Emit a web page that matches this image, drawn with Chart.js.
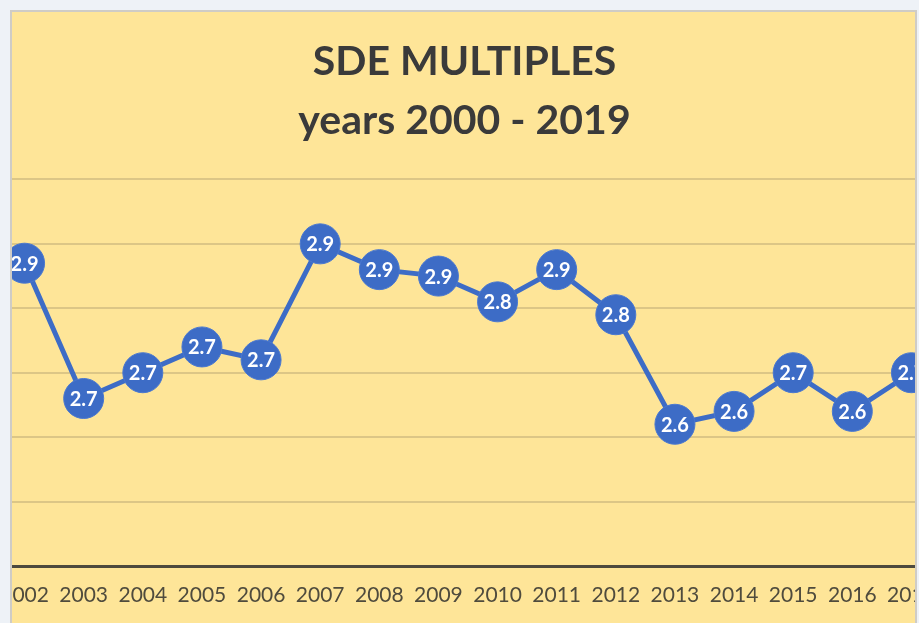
<!DOCTYPE html>
<html>
<head>
<meta charset="utf-8">
<script src="https://cdn.jsdelivr.net/npm/chart.js@4.4.1/dist/chart.umd.min.js"></script>
<style>
  html, body { margin: 0; padding: 0; background: #eef2f7; width: 919px; height: 623px; overflow: hidden; }
  #panel {
    position: absolute; left: 10px; top: 10px; width: 903px; height: 640px;
    background: #fee598; border: 2px solid #cfccc6; overflow: hidden;
  }
  #c { position: absolute; left: -24px; top: 0; }
</style>
</head>
<body>
<div id="panel"><canvas id="c" width="953" height="611"></canvas></div>
<script>
// Data (visible part: 2002–2017)
const years = ['2002','2003','2004','2005','2006','2007','2008','2009','2010','2011','2012','2013','2014','2015','2016','2017'];
const sdeMultiples = [2.87, 2.66, 2.70, 2.74, 2.72, 2.90, 2.86, 2.85, 2.81, 2.86, 2.79, 2.62, 2.64, 2.70, 2.64, 2.70];
const titleLines = ['SDE MULTIPLES', 'years 2000 - 2019'];
const yMin = 2.4, yMax = 3.0, yStep = 0.1;

const FONT = 'Lato, "Open Sans", "DejaVu Sans", sans-serif';
const BLUE = '#3d6cc6';

const pointLabels = {
  id: 'pointLabels',
  afterDatasetsDraw(chart) {
    const ctx = chart.ctx;
    const meta = chart.getDatasetMeta(0);
    const vals = chart.data.datasets[0].data;
    ctx.save();
    ctx.fillStyle = '#ffffff';
    ctx.font = 'bold 20px ' + FONT;
    ctx.textAlign = 'center';
    ctx.textBaseline = 'middle';
    meta.data.forEach((pt, i) => {
      ctx.fillText(Number(vals[i]).toFixed(1), pt.x, pt.y + 1);
    });
    ctx.restore();
  }
};

new Chart(document.getElementById('c'), {
  type: 'line',
  data: {
    labels: years,
    datasets: [{
      data: sdeMultiples,
      borderColor: BLUE,
      backgroundColor: BLUE,
      borderWidth: 5,
      pointRadius: 20,
      pointHoverRadius: 20,
      pointBackgroundColor: BLUE,
      pointBorderColor: '#4a78d0',
      pointBorderWidth: 1,
      tension: 0,
      clip: false
    }]
  },
  options: {
    responsive: false,
    animation: false,
    events: [],
    layout: { autoPadding: false, padding: { top: 0, left: 0, right: 0, bottom: 15 } },
    plugins: {
      legend: { display: false },
      tooltip: { enabled: false },
      title: {
        display: true,
        text: titleLines,
        color: '#3a3a3a',
        font: { family: FONT, size: 41, weight: 'bold', lineHeight: 1.42 },
        padding: { top: 21, bottom: 30 }
      }
    },
    scales: {
      x: {
        offset: true,
        grid: { drawOnChartArea: false, drawTicks: false },
        border: { display: true, color: '#4d4a3e', width: 3 },
        ticks: {
          color: '#4f4b3d',
          font: { family: FONT, size: 21, lineHeight: 1.2 },
          padding: 17,
          maxRotation: 0,
          autoSkip: false
        },
        afterFit(scale) { scale.paddingLeft = 0; scale.paddingRight = 0; scale.height = 42; }
      },
      y: {
        min: yMin,
        max: yMax,
        ticks: { display: false, stepSize: yStep },
        grid: { color: '#dcc686', lineWidth: 2, drawTicks: false },
        border: { display: false },
        afterFit(scale) { scale.width = 7; scale.paddingTop = 0; scale.paddingBottom = 0; }
      }
    }
  },
  plugins: [pointLabels]
});
</script>
</body>
</html>
